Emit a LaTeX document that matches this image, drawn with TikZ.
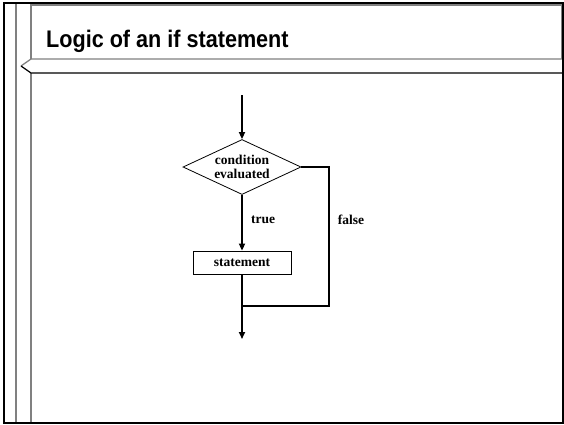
\documentclass[tikz,border=0pt]{standalone}
\usepackage{fontspec}
\setmainfont{Liberation Serif}
\newfontfamily\titlefont[FakeStretch=0.9]{Liberation Sans}
\usetikzlibrary{shapes.geometric,arrows.meta}
\begin{document}
\begin{tikzpicture}[x=1pt,y=-1pt,
  frameline/.style={line width=2pt,black},
  greyline/.style={line width=1.3pt,gray},
  flow/.style={line width=1.6pt,black},
  arr/.style={flow,-{Triangle[length=7pt,width=6pt]}},
  lbl/.style={font=\fontsize{13.5}{14}\selectfont\bfseries,inner sep=0pt},
  dia/.style={diamond,draw,line width=0.8pt,aspect=2.145,minimum width=118pt,minimum height=55pt,inner sep=0pt,align=center,font=\fontsize{13.5}{14}\selectfont\bfseries},
  stbox/.style={rectangle,draw,line width=0.8pt,minimum width=98pt,minimum height=23pt,inner sep=0pt,font=\fontsize{13.5}{14}\selectfont\bfseries}
]
\useasboundingbox (0,0) rectangle (564,424);
% frame
\draw[greyline] (16,4) -- (16,422);
\draw[greyline] (31,4) -- (31,59);
\draw[greyline] (31,73) -- (31,422);
\draw[greyline] (31,5) -- (562,5) -- (562,59);
\draw[greyline] (562,59) -- (31,59) -- (21,66);
\draw[line width=1.2pt,black] (21,66) -- (31,73) -- (562,73);
\draw[frameline] (4,3) rectangle (563,423);
% title
\node[anchor=base west,inner sep=0pt,font=\titlefont\bfseries\fontsize{24}{28}\selectfont] (title) at (46,47) {Logic of an if statement};
% flowchart
\coordinate (start) at (242,95);
\node[dia] (cond) at (242,167) {condition\\evaluated};
\node[stbox] (stmt) at (242,262.5) {statement};
\coordinate (fc) at (329,306);
\coordinate (join) at (242,306);
\coordinate (end) at (242,339);
\draw[arr] (start) -- (cond.north);
\draw[arr] (cond.south) -- (stmt.north);
\draw[flow] (cond.east) -| (fc) -- (join);
\draw[arr] (stmt.south) -- (end);
\node[lbl] (true) at (263,220) {true};
\node[lbl] (false) at (351,220) {false};
\end{tikzpicture}
\end{document}
